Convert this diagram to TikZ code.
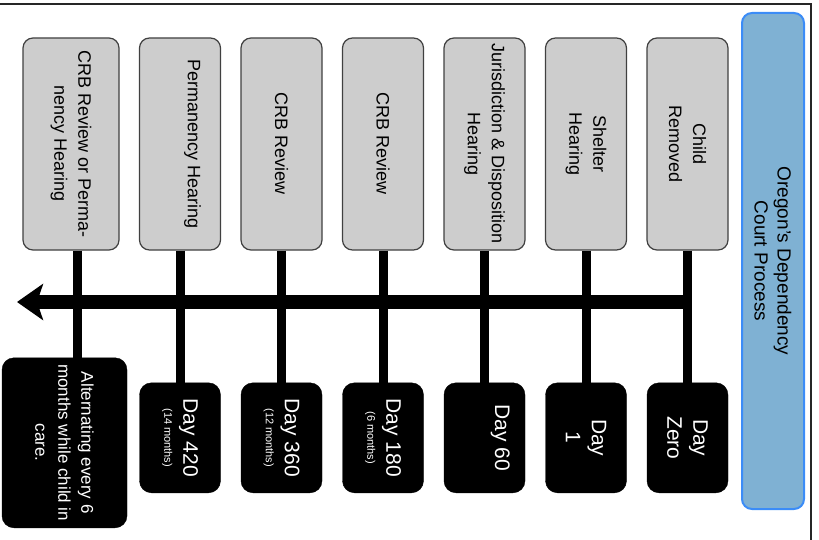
\documentclass[tikz,border=0pt]{standalone}
\usepackage{fontspec}
\setmainfont{Liberation Sans}
\usepackage{xcolor}
\usetikzlibrary{arrows.meta, positioning}
\definecolor{eventgrey}{HTML}{CDCDCD}
\definecolor{headingfill}{HTML}{7FB1D3}
\definecolor{headingedge}{HTML}{3B8CF7}
\newcommand{\monthnote}[1]{{\fontsize{11}{13}\selectfont #1}}

\begin{document}
\begin{tikzpicture}[
        x=1pt, y=1pt, rotate=-90, transform shape,
        event/.style={draw=black!75, fill=eventgrey, line width=1.2pt, rounded corners=10pt, minimum width=212pt, minimum height=81pt, inner sep=2pt, align=center, font=\fontsize{18}{24}\selectfont},
        day/.style={draw=black, fill=black, text=white, rounded corners=12pt, minimum width=110pt, minimum height=81pt, inner sep=2pt, align=center, font=\fontsize{21}{26}\selectfont},
        heading/.style={draw=headingedge, fill=headingfill, line width=2pt, rounded corners=10pt, minimum width=496pt, minimum height=62pt, align=center, font=\fontsize{19}{23}\selectfont},
        stem/.style={line width=9pt},
        timeline/.style={-{Stealth[length=26pt, width=36pt, inset=6pt]}, line width=14pt},
        frame/.style={line width=2pt, black!85}
    ]
        \useasboundingbox (0,0) rectangle (540,819);
        \draw[frame] (4,0) -- (4,811) -- (540,811);

        \node[heading] (court) at (261,773) {Oregon’s Dependency\\Court Process};

        \node[event] (removed) at (144,687.5) {Child\\Removed};
        \node[event, below=19.3pt of removed] (shelter) {Shelter\\Hearing};
        \node[event, below=19.3pt of shelter] (jurisdiction) {Jurisdiction \& Disposition\\Hearing};
        \node[event, below=19.3pt of jurisdiction] (crbsix) {CRB Review};
        \node[event, below=19.3pt of crbsix] (crbtwelve) {CRB Review};
        \node[event, below=19.3pt of crbtwelve, text depth=29pt] (permanency) {Permanency Hearing};
        \node[event, below=19.3pt of permanency, minimum height=96pt] (crbperm) {CRB Review or Perma-\\nency Hearing};

        \node[day, right=132pt of removed] (dayzero) {Day\\Zero};
        \node[day, right=132pt of shelter] (dayone) {Day\\1};
        \node[day, right=132pt of jurisdiction, text depth=36pt] (daysixty) {Day 60};
        \node[day, right=132pt of crbsix] (dayoneeighty) {Day 180\\[-7pt]\monthnote{(6 months)}};
        \node[day, right=132pt of crbtwelve] (daythreesixty) {Day 360\\[-7pt]\monthnote{(12 months)}};
        \node[day, right=132pt of permanency] (dayfourtwenty) {Day 420\\[-7pt]\monthnote{(14 months)}};
        \node[day, right=107pt of crbperm, yshift=-6.5pt, minimum width=170pt, minimum height=125pt, font=\fontsize{17}{23}\selectfont] (alternating) {Alternating every 6\\months while child in\\care.};

        \coordinate (axisend) at (302,17);
        \draw[timeline] (axisend |- removed) -- (axisend);

        \draw[stem] (removed) -- (dayzero);
        \draw[stem] (shelter) -- (dayone);
        \draw[stem] (jurisdiction) -- (daysixty);
        \draw[stem] (crbsix) -- (dayoneeighty);
        \draw[stem] (crbtwelve) -- (daythreesixty);
        \draw[stem] (permanency) -- (dayfourtwenty);
        \draw[stem] ([yshift=6pt]crbperm.east) -- ([yshift=12.5pt]alternating.west);
    \end{tikzpicture}
\end{document}
